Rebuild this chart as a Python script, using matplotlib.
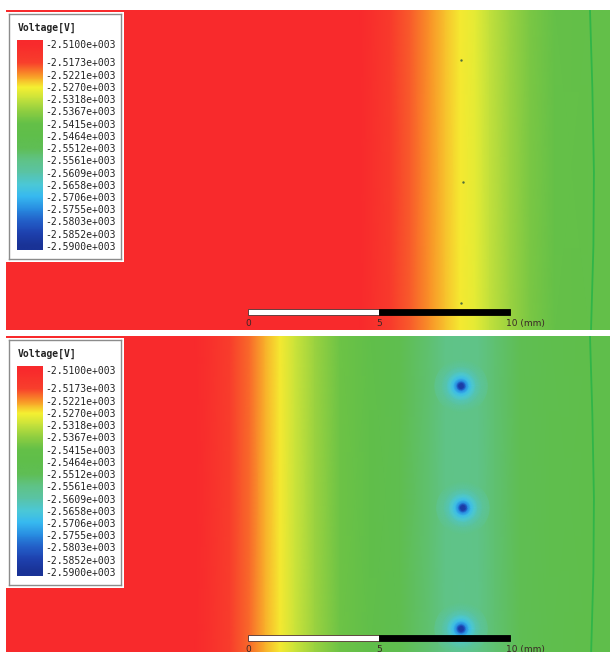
import numpy as np
import matplotlib.pyplot as plt
from matplotlib.colors import LinearSegmentedColormap, Normalize
from matplotlib.patches import Rectangle

plt.rcParams["font.family"] = ["DejaVu Sans Mono"]

# legend levels (V) and the colour shown at each level
levels = [-2510.0, -2517.3, -2522.1, -2527.0, -2531.8, -2536.7, -2541.5, -2546.4,
          -2551.2, -2556.1, -2560.9, -2565.8, -2570.6, -2575.5, -2580.3, -2585.2, -2590.0]
level_colors = ["#f82a2c", "#f8402c", "#f99628", "#f5f032", "#c3e13c", "#8ccd41",
                "#64c048", "#5fbe4b", "#5fbe55", "#5fc387", "#5ac3a5", "#4bc8d7",
                "#37b9f0", "#288ce1", "#235fc8", "#1e41af", "#193296"]

# voltage along x (mm) for the two cases
top_x = [0.0, 13.51, 13.97, 14.66, 15.42, 16.18, 16.76, 17.33, 17.90, 18.47,
         19.24, 20.00, 20.95, 22.21, 23.05]
top_v = [-2510.0, -2510.0, -2512.0, -2515.5, -2519.0, -2522.0, -2524.5, -2526.8,
         -2528.5, -2532.0, -2535.5, -2539.0, -2541.5, -2543.0, -2543.0]

bot_x = [0.0, 7.21, 7.79, 8.55, 9.31, 9.89, 10.46, 11.03, 11.79, 12.75, 13.89,
         15.04, 16.18, 16.76, 17.37, 18.02, 18.66, 19.62, 20.76, 22.21, 23.05]
bot_v = [-2510.0, -2510.0, -2512.5, -2516.5, -2520.0, -2523.5, -2526.8, -2531.0,
         -2535.5, -2540.5, -2545.0, -2549.0, -2554.0, -2556.0, -2556.5, -2556.0,
         -2554.0, -2550.5, -2548.0, -2546.0, -2546.0]

# electrodes (mm from panel top-left) and the dip of voltage around them
elec_x = [17.37, 17.44, 17.37]
elec_y = [1.91, 6.56, 11.18]
glow_r = [0.0, 0.11, 0.19, 0.30, 0.42, 0.57, 0.76, 1.0]
glow_v = [-2590.0, -2584.0, -2575.0, -2569.0, -2565.5, -2562.0, -2558.8, -2556.5]

# outer boundary line
edge_x = [22.29, 22.38, 22.44, 22.42, 22.33]
edge_y = [0.0, 3.0, 6.2, 9.0, 12.2]

FW, FH = 610, 652
PX = 26.2  # pixels per mm

pos = [(v - levels[-1]) / (levels[0] - levels[-1]) for v in levels]
cmap = LinearSegmentedColormap.from_list("ansys", list(zip(pos[::-1], level_colors[::-1])))
norm = Normalize(levels[-1], levels[0])

fig = plt.figure(figsize=(FW / 100, FH / 100), dpi=100)


def px_axes(left, top, w, h):
    return fig.add_axes([left / FW, 1 - (top + h) / FH, w / FW, h / FH])


def fmt(v):
    m, e = f"{v:.4e}".split("e")
    return f"{m}e{int(e):+04d}"


panels = [(10, 320, top_x, top_v, False), (336, 316, bot_x, bot_v, True)]

for top, h, xs, vs, glow in panels:
    ax = px_axes(6, top, 604, h)
    W, H = 604 / PX, h / PX
    ax.set_xlim(0, W)
    ax.set_ylim(H, 0)
    ax.axis("off")

    xs = np.array(xs)
    vs = np.array(vs)
    ax.pcolormesh(np.vstack([xs, xs]), np.vstack([np.zeros_like(xs), np.full_like(xs, H)]),
                  np.vstack([vs, vs]), shading="gouraud", cmap=cmap, norm=norm)

    if glow:
        theta = np.linspace(0, 2 * np.pi, 73)
        R, T = np.meshgrid(glow_r, theta)
        C = np.tile(glow_v, (len(theta), 1))
        for ex, ey in zip(elec_x, elec_y):
            ax.pcolormesh(ex + R * np.cos(T), ey + R * np.sin(T), C,
                          shading="gouraud", cmap=cmap, norm=norm)
    else:
        ax.scatter(elec_x, elec_y, s=3, color="#4f6e3c", linewidths=0, zorder=3)

    ax.plot(edge_x, edge_y, color="#30b548", lw=1.3)

    # scale bar
    bx, by, bh = 9.24, 11.43, 0.23
    ax.add_patch(Rectangle((bx, by), 5, bh, facecolor="white", edgecolor="#503030", lw=0.6))
    ax.add_patch(Rectangle((bx + 5, by), 5, bh, facecolor="black", edgecolor="black", lw=0.6))
    tk = dict(fontsize=6.5, family="DejaVu Sans", color="#3a2626", va="center")
    ax.text(bx, 11.96, "0", ha="center", **tk)
    ax.text(bx + 5, 11.96, "5", ha="center", **tk)
    ax.text(bx + 9.85, 11.96, "10 (mm)", ha="left", **tk)

    # legend
    bg = px_axes(6, top + 1.5, 118, 250)
    bg.set_facecolor("white")
    bg.set_xticks([])
    bg.set_yticks([])
    for s in bg.spines.values():
        s.set_visible(False)
    box = px_axes(9, top + 4, 112, 245)
    box.set_facecolor("white")
    box.set_xticks([])
    box.set_yticks([])
    for s in box.spines.values():
        s.set_color("#8c8c8c")
        s.set_linewidth(1.0)
    fig.text(18 / FW, 1 - (top + 18) / FH, "Voltage[V]", fontsize=7, fontweight="bold",
             color="#222222", va="center")

    cax = px_axes(17, top + 30, 26, 210)
    d = (levels[0] - levels[-1]) * 4 / 201
    grad = np.linspace(levels[0] + d, levels[-1] - d, 256)[:, None]
    cax.imshow(grad, extent=[0, 1, levels[-1] - d, levels[0] + d], aspect="auto",
               cmap=cmap, norm=norm)
    cax.set_ylim(levels[-1] - d, levels[0] + d)
    cax.set_xticks([])
    cax.yaxis.tick_right()
    cax.set_yticks(levels, [fmt(v) for v in levels])
    cax.tick_params(axis="y", length=0, pad=1.5, labelsize=7, labelcolor="#222222")
    for s in cax.spines.values():
        s.set_visible(False)

plt.savefig("out.png", dpi=100)
